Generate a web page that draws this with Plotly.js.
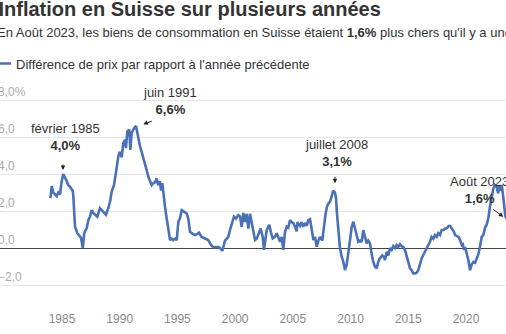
<!DOCTYPE html>
<html>
<head>
<meta charset="utf-8">
<script src="https://cdn.plot.ly/plotly-3.0.1.min.js"></script>
<style>
html,body{margin:0;padding:0;width:506px;height:334px;overflow:hidden;background:#fff;}
#chart{position:absolute;left:-50px;top:0;width:580px;height:334px;}
</style>
</head>
<body>
<div id="chart"></div>
<script>
// Year-over-year change of Swiss consumer prices (%)
const years = [
1984.0,1984.11,1984.25,1984.54,1984.68,1984.83,1984.97,1985.11,1985.35,1985.55,1985.75,1985.93,1985.98,
1986.07,1986.13,1986.33,1986.5,1986.65,1986.8,1986.93,1987.14,1987.28,1987.43,1987.57,1987.71,1987.86,
1988.06,1988.29,1988.44,1988.58,1988.81,1989.01,1989.16,1989.31,1989.5,1989.68,1989.88,1990.02,1990.17,
1990.31,1990.46,1990.54,1990.66,1990.83,1990.92,1991.03,1991.17,1991.41,1991.61,1991.76,1991.9,1992.04,
1992.19,1992.34,1992.48,1992.62,1992.77,1992.91,1993.06,1993.2,1993.34,1993.49,1993.58,1993.69,1993.78,
1993.92,1994.07,1994.21,1994.36,1994.5,1994.64,1994.79,1994.94,1995.08,1995.22,1995.37,1995.51,1995.66,
1995.8,1995.94,1996.09,1996.24,1996.52,1996.7,1996.87,1997.1,1997.39,1997.67,1997.91,1998.11,1998.4,
1998.54,1998.69,1998.9,1999.12,1999.41,1999.55,1999.79,1999.9,2000.07,2000.27,2000.42,2000.57,2000.71,
2000.85,2001.0,2001.14,2001.29,2001.43,2001.57,2001.72,2001.87,2002.09,2002.21,2002.39,2002.5,2002.73,
2002.96,2003.1,2003.25,2003.45,2003.6,2003.73,2003.89,2004.03,2004.17,2004.32,2004.47,2004.6,2004.75,
2004.9,2005.04,2005.19,2005.33,2005.4,2005.47,2005.62,2005.76,2005.9,2006.05,2006.2,2006.34,2006.49,
2006.63,2006.78,2006.92,2007.07,2007.21,2007.35,2007.55,2007.72,2007.84,2007.96,2008.07,2008.22,2008.31,
2008.42,2008.5,2008.65,2008.74,2008.82,2008.94,2009.08,2009.23,2009.37,2009.52,2009.66,2009.8,2009.95,
2010.1,2010.24,2010.38,2010.53,2010.67,2010.82,2010.96,2011.1,2011.25,2011.39,2011.53,2011.68,2011.82,
2011.96,2012.11,2012.26,2012.4,2012.54,2012.74,2012.9,2012.98,2013.13,2013.27,2013.42,2013.56,2013.7,
2013.85,2013.99,2014.13,2014.28,2014.42,2014.57,2014.71,2014.86,2015.0,2015.15,2015.29,2015.43,2015.58,
2015.72,2015.87,2016.01,2016.16,2016.3,2016.45,2016.59,2016.73,2016.88,2017.02,2017.17,2017.31,2017.46,
2017.6,2017.75,2017.89,2018.04,2018.19,2018.33,2018.48,2018.62,2018.77,2018.91,2019.06,2019.2,2019.35,
2019.49,2019.64,2019.72,2019.84,2019.92,2020.06,2020.2,2020.35,2020.49,2020.64,2020.78,2020.93,2021.07,
2021.21,2021.36,2021.5,2021.65,2021.79,2021.93,2022.08,2022.22,2022.36,2022.5,2022.65,2022.79,2022.88,
2022.99,2023.1,2023.22,2023.31,2023.4,2023.5,2023.58
];
const inflation = [
2.7,3.35,3.0,2.8,3.0,2.9,3.6,4.0,3.7,3.4,3.25,3.1,2.8,
2.05,1.15,0.8,0.65,0.55,0.0,0.8,1.08,1.5,1.7,2.05,1.9,1.8,
1.7,2.15,2.05,1.9,1.8,2.15,2.5,3.05,3.4,4.1,4.95,5.2,4.9,
5.65,5.85,5.4,6.3,6.4,5.3,6.2,6.4,6.6,5.9,5.5,5.2,4.9,
4.66,4.2,3.85,3.6,3.4,3.5,3.55,3.75,3.4,3.6,3.1,3.5,2.95,
2.25,1.6,0.97,0.43,0.5,0.43,0.5,0.43,1.42,1.6,2.05,2.0,1.95,
1.87,1.6,0.88,0.8,0.7,0.75,0.83,0.6,0.52,0.43,0.16,0.04,0.05,
0.05,0.0,-0.15,0.4,0.6,0.97,1.5,1.7,1.6,1.78,1.7,1.15,1.9,
1.4,1.85,1.05,1.85,1.33,0.9,0.43,0.5,0.8,1.05,0.6,-0.1,0.97,
1.25,0.85,0.52,0.6,0.8,0.6,0.34,0.6,-0.1,0.88,1.15,1.1,1.5,
1.4,1.35,1.15,0.9,1.4,1.3,1.2,1.4,1.15,1.35,1.2,1.5,1.55,
0.97,0.43,0.6,0.07,0.4,0.6,0.4,1.33,1.87,2.24,2.4,2.5,2.7,
2.86,3.1,3.0,2.7,1.87,0.88,0.0,-0.47,-0.74,-1.19,-0.9,-0.29,0.6,
1.15,1.42,1.05,0.6,0.33,0.4,0.33,0.97,0.5,0.25,0.4,0.25,-0.29,
-0.74,-1.0,-1.1,-0.75,-0.56,-0.4,-0.5,-0.65,-0.2,-0.4,0.0,-0.1,0.1,
0.0,0.16,0.05,0.2,0.1,0.05,-0.1,-0.47,-0.83,-1.1,-1.2,-1.37,-1.37,
-1.33,-1.2,-0.83,-0.56,-0.38,-0.2,0.0,0.1,0.34,0.6,0.5,0.7,0.6,
0.8,0.7,0.97,0.97,1.05,1.06,1.19,1.19,1.05,0.93,0.7,0.65,0.6,
0.43,0.16,0.2,-0.1,0.05,-0.29,-0.65,-1.2,-0.9,-0.75,-0.8,-0.56,-0.35,
0.07,0.6,0.7,1.1,1.26,1.6,2.24,2.77,3.2,3.4,3.3,2.95,3.4,
3.1,3.4,2.8,2.2,1.75,1.6,1.6
];
const xTicks = [1985,1990,1995,2000,2005,2010,2015,2020];
const xTickText = ['1985','1990','1995','2000','2005','2010','2015','2020'];
const yTicks = [-2,0,2,4,6,8];
const yTickText = ['−2,0','0,0','2,0','4,0','6,0','8,0%'];

const seriesName = "Différence de prix par rapport à l'année précédente";
const titleText = 'Inflation en Suisse sur plusieurs années';
const subtitleText = "En Août 2023, les biens de consommation en Suisse étaient <b>1,6%</b> plus chers qu'il y a une année.";

// highlighted points: label, value text, label anchor (x,y), arrow head (x,y), arrow tail offset
const noteLabels = ['février 1985','juin 1991','juillet 2008','Août 2023'];
const noteValues = ['4,0%','6,6%','3,1%','1,6%'];
const noteX = [1985.26,1994.36,2008.82,2021.21];
const noteY = [6.0,7.946,5.12,3.11];
const arrowX = [1985.087,1992.04,2008.65,2023.23];
const arrowY = [4.216,6.69,3.5,1.69];
const arrowAX = [0,10,0,-11.6];
const arrowAY = [-7,-3.6,-8,-8.4];

const FONT = 'Liberation Sans, Arial, Helvetica, sans-serif';
const LINE = '#4a70b5';

const trace = {
  x: years, y: inflation, type:'scatter', mode:'lines', name: seriesName,
  line:{color:LINE, width:2.6}, hoverinfo:'skip'
};

const annotations = [];
annotations.push({
  xref:'paper', yref:'paper', x:0, y:1.1974, xanchor:'left', yanchor:'middle',
  text: subtitleText, showarrow:false, font:{size:13,color:'#333',family:FONT}
});
for (let i=0;i<noteLabels.length;i++){
  annotations.push({
    x: noteX[i], y: noteY[i], xref:'x', yref:'y', xanchor:'center', yanchor:'middle',
    text: noteLabels[i] + '<br><b>' + noteValues[i] + '</b>', showarrow:false,
    font:{size:13,color:'#333',family:FONT}
  });
  annotations.push({
    x: arrowX[i], y: arrowY[i], xref:'x', yref:'y', text:'', showarrow:true,
    ax: arrowAX[i], ay: arrowAY[i], arrowhead:2, arrowsize:0.9, arrowwidth:1, arrowcolor:'#222'
  });
}

const layout = {
  width:580, height:334,
  margin:{l:45, r:10, t:78, b:28, pad:0},
  paper_bgcolor:'#fff', plot_bgcolor:'#fff',
  font:{family:FONT, color:'#333'},
  title:{
    text:'<b>'+titleText+'</b>', font:{size:20,color:'#333',family:FONT},
    xref:'container', x:0.0836, xanchor:'left',
    yref:'container', y:0.973, yanchor:'middle', pad:{t:0,b:0,l:0,r:0}
  },
  xaxis:{
    range:[1979.196,2024.678], tickvals:xTicks, ticktext:xTickText,
    showgrid:false, zeroline:false, showline:false, ticks:'', ticklabelstandoff:4,
    tickfont:{size:12,color:'#888',family:FONT}, fixedrange:true
  },
  yaxis:{
    range:[-3.135,9.189], tickvals:yTicks, ticktext:yTickText,
    ticklabelposition:'inside top', showgrid:true, gridcolor:'#e6e6e6', gridwidth:1,
    zeroline:true, zerolinecolor:'#444', zerolinewidth:1, showline:false, ticks:'',
    tickfont:{size:12,color:'#aaa',family:FONT}, fixedrange:true
  },
  showlegend:true,
  legend:{
    orientation:'h', x:-0.0362, xanchor:'left', y:1.0636, yanchor:'middle',
    font:{size:13,color:'#333',family:FONT}, itemwidth:30, bgcolor:'rgba(0,0,0,0)'
  },
  annotations: annotations
};

Plotly.newPlot('chart',[trace],layout,{displayModeBar:false, staticPlot:true});
</script>
</body>
</html>
